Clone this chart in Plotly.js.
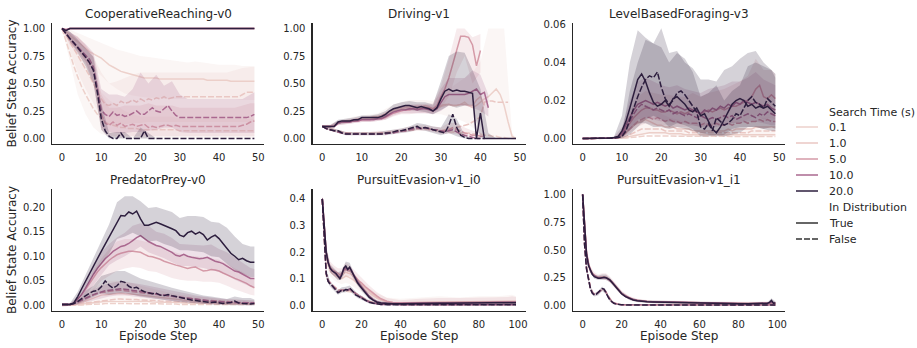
<!DOCTYPE html>
<html><head><meta charset="utf-8">
<script src="https://cdn.plot.ly/plotly-3.0.1.min.js"></script>
<style>html,body{margin:0;padding:0;background:#fff}#chart{width:917px;height:348px}</style>
</head><body><div id="chart"></div>
<script>
// ---------------- DATA ----------------
const hueLabels = ['0.1','1.0','5.0','10.0','20.0'];
const styleLabels = ['True','False'];
const panelTitles = ['CooperativeReaching-v0','Driving-v1','LevelBasedForaging-v3','PredatorPrey-v0','PursuitEvasion-v1_i0','PursuitEvasion-v1_i1'];

const steps50 = [0,1,2,3,4,5,6,7,8,9,10,11,12,13,14,15,16,17,18,19,20,21,22,23,24,25,26,27,28,29,30,31,32,33,34,35,36,37,38,39,40,41,42,43,44,45,46,47,48,49];
const steps100 = [0,1,2,3,4,5,6,7,8,9,10,11,12,13,14,15,16,17,18,19,20,22,24,26,28,30,33,36,40,45,50,55,60,65,70,75,80,85,90,93,95,96,97,98,99];
const bandSteps50 = [0,2,4,6,8,10,12,14,16,18,20,22,24,26,28,30,32,34,36,38,40,42,44,46,48,49];
const bandSteps42 = [0,2,4,6,8,10,12,14,16,18,20,22,24,26,28,30,32,34,36,38,40,42];
const bandSteps40 = [0,2,4,6,8,10,12,14,16,18,20,22,24,26,28,30,32,34,36,38,40];
const bandSteps100 = [0,1,2,4,6,8,10,12,14,16,18,20,24,28,33,40,50,60,70,80,90,95,97,99];

const xTicks50 = [0,10,20,30,40,50];
const xTicks100 = [0,20,40,60,80,100];
const yTicksUnit = [0,0.25,0.5,0.75,1.0];
const yTicksLBF = [0,0.02,0.04,0.06];
const yTicksPP = [0,0.05,0.1,0.15,0.2];
const yTicksPE0 = [0,0.1,0.2,0.3,0.4];

// CooperativeReaching-v0
const cr_t01 = [1.00,0.97,0.94,0.91,0.88,0.85,0.82,0.79,0.77,0.75,0.73,0.70,0.67,0.65,0.63,0.61,0.60,0.59,0.58,0.57,0.56,0.55,0.55,0.55,0.55,0.54,0.54,0.54,0.54,0.54,0.54,0.54,0.54,0.54,0.54,0.54,0.54,0.53,0.53,0.53,0.53,0.53,0.53,0.52,0.52,0.52,0.52,0.52,0.52,0.52];
const cr_t1 = [1,0.99,1,1,1,1,1,1,1,1,1,1,1,1,1,1,1,1,1,1,1,1,1,1,1,1,1,1,1,1,1,1,1,1,1,1,1,1,1,1,1,1,1,1,1,1,1,1,1,1];
const cr_t5 = [1,0.99,1,1,1,1,1,1,1,1,1,1,1,1,1,1,1,1,1,1,1,1,1,1,1,1,1,1,1,1,1,1,1,1,1,1,1,1,1,1,1,1,1,1,1,1,1,1,1,1];
const cr_t10 = [1,0.99,1,1,1,1,1,1,1,1,1,1,1,1,1,1,1,1,1,1,1,1,1,1,1,1,1,1,1,1,1,1,1,1,1,1,1,1,1,1,1,1,1,1,1,1,1,1,1,1];
const cr_t20 = [1,0.98,1,1,1,1,1,1,1,1,1,1,1,1,1,1,1,1,1,1,1,1,1,1,1,1,1,1,1,1,1,1,1,1,1,1,1,1,1,1,1,1,1,1,1,1,1,1,1,1];
const cr_f01 = [1.00,0.88,0.77,0.66,0.56,0.47,0.40,0.33,0.27,0.22,0.18,0.15,0.13,0.12,0.11,0.10,0.10,0.09,0.09,0.09,0.08,0.08,0.08,0.08,0.08,0.08,0.08,0.08,0.08,0.08,0.07,0.07,0.07,0.07,0.07,0.07,0.07,0.07,0.07,0.07,0.07,0.07,0.07,0.07,0.07,0.07,0.07,0.07,0.07,0.07];
const cr_f1 = [1.00,0.94,0.88,0.82,0.76,0.70,0.64,0.57,0.50,0.43,0.36,0.31,0.30,0.32,0.30,0.34,0.32,0.33,0.35,0.33,0.36,0.34,0.36,0.35,0.37,0.36,0.38,0.36,0.37,0.38,0.38,0.38,0.38,0.38,0.38,0.38,0.38,0.38,0.38,0.38,0.38,0.38,0.38,0.38,0.38,0.38,0.40,0.42,0.42,0.42];
const cr_f5 = [1.00,0.95,0.90,0.86,0.82,0.78,0.74,0.69,0.62,0.44,0.22,0.14,0.12,0.15,0.12,0.14,0.11,0.12,0.13,0.11,0.12,0.13,0.10,0.11,0.10,0.11,0.12,0.12,0.11,0.12,0.11,0.11,0.11,0.11,0.11,0.11,0.11,0.11,0.11,0.11,0.11,0.11,0.11,0.11,0.11,0.11,0.12,0.13,0.15,0.16];
const cr_f10 = [1.00,0.95,0.91,0.87,0.83,0.80,0.76,0.72,0.65,0.46,0.26,0.22,0.20,0.24,0.21,0.22,0.20,0.21,0.23,0.25,0.22,0.22,0.25,0.28,0.25,0.24,0.27,0.30,0.25,0.21,0.19,0.19,0.19,0.19,0.19,0.19,0.19,0.19,0.19,0.19,0.19,0.19,0.19,0.19,0.19,0.19,0.19,0.19,0.20,0.22];
const cr_f20 = [1.00,0.95,0.91,0.87,0.83,0.79,0.74,0.69,0.62,0.42,0.18,0.07,0.02,0.00,0.00,0.05,0.00,0.00,0.00,0.00,0.00,0.07,0,0,0,0,0,0,0,0,0,0,0,0,0,0,0,0,0,0,0,0,0,0,0,0,0,0,0,0];
const cr_t01_lo = [1,0.88,0.79,0.70,0.63,0.57,0.50,0.45,0.41,0.39,0.38,0.37,0.37,0.36,0.36,0.36,0.36,0.36,0.36,0.36,0.36,0.36,0.36,0.35,0.35,0.35];
const cr_t01_hi = [1,0.99,0.96,0.93,0.90,0.87,0.84,0.81,0.79,0.77,0.75,0.74,0.73,0.72,0.71,0.70,0.69,0.70,0.69,0.68,0.67,0.67,0.67,0.66,0.66,0.66];
const cr_f01_lo = [1,0.70,0.40,0.22,0.10,0.04,0.02,0.01,0,0,0,0,0,0,0,0,0,0,0,0,0,0,0,0,0,0];
const cr_f01_hi = [1,0.95,0.85,0.72,0.55,0.42,0.35,0.30,0.25,0.22,0.20,0.20,0.20,0.20,0.20,0.18,0.18,0.18,0.18,0.18,0.18,0.18,0.18,0.18,0.18,0.18];
const cr_f1_lo = [1,0.80,0.60,0.45,0.32,0.18,0.12,0.12,0.13,0.14,0.14,0.15,0.15,0.15,0.15,0.15,0.15,0.15,0.15,0.15,0.15,0.15,0.15,0.15,0.15,0.15];
const cr_f1_hi = [1,0.97,0.92,0.85,0.74,0.60,0.50,0.52,0.55,0.58,0.60,0.60,0.60,0.60,0.60,0.60,0.60,0.60,0.60,0.60,0.60,0.60,0.62,0.64,0.65,0.65];
const cr_f5_lo = [1,0.85,0.76,0.68,0.50,0.08,0.02,0.02,0.02,0.02,0.02,0.02,0.02,0.02,0.02,0.02,0.02,0.02,0.02,0.02,0.02,0.02,0.02,0.02,0.02,0.02];
const cr_f5_hi = [1,0.96,0.93,0.85,0.75,0.40,0.28,0.28,0.30,0.30,0.30,0.32,0.30,0.30,0.30,0.28,0.28,0.28,0.28,0.28,0.28,0.28,0.28,0.30,0.32,0.32];
const cr_f10_lo = [1,0.88,0.80,0.70,0.52,0.10,0.06,0.05,0.05,0.06,0.06,0.07,0.08,0.10,0.10,0.06,0.05,0.05,0.05,0.05,0.05,0.05,0.05,0.05,0.05,0.05];
const cr_f10_hi = [1,0.97,0.92,0.86,0.78,0.45,0.40,0.40,0.38,0.45,0.60,0.50,0.58,0.48,0.52,0.40,0.36,0.36,0.36,0.36,0.36,0.36,0.36,0.36,0.40,0.42];
const cr_f20_lo = [1,0.88,0.78,0.66,0.50,0.08,0,0,0,0,0,0,0,0,0,0,0,0,0,0,0,0,0,0,0,0];
const cr_f20_hi = [1,0.97,0.90,0.82,0.74,0.32,0.05,0.06,0.06,0,0.10,0.05,0,0,0,0,0,0,0,0,0,0,0,0,0,0];

// Driving-v1
const dr_t01 = [0.11,0.11,0.11,0.12,0.14,0.15,0.16,0.16,0.17,0.18,0.18,0.19,0.19,0.20,0.20,0.21,0.23,0.25,0.26,0.27,0.28,0.29,0.29,0.29,0.29,0.29,0.30,0.29,0.27,0.28,0.29,0.30,0.31,0.30,0.30,0.31,0.33,0.30,0.28,0.30,0.33,0.36,0.38,0.42,0.45,0.40,0.30,0.15,0.02,0.00];
const dr_t1 = [0.11,0.11,0.11,0.11,0.14,0.15,0.15,0.16,0.16,0.17,0.18,0.18,0.18,0.18,0.19,0.19,0.21,0.23,0.25,0.26,0.27,0.28,0.28,0.28,0.28,0.28,0.29,0.28,0.27,0.28,0.30,0.31,0.31,0.30,0.30,0.31,0.31,0.30,0.30,0.35,0.38,0.30,null,null,null,null,null,null,null,null];
const dr_t5 = [0.11,0.11,0.11,0.11,0.14,0.15,0.15,0.15,0.16,0.16,0.17,0.17,0.17,0.18,0.18,0.18,0.19,0.21,0.23,0.24,0.25,0.26,0.26,0.27,0.27,0.27,0.28,0.28,0.27,0.30,0.38,0.45,0.55,0.68,0.82,0.93,0.93,0.92,0.85,0.66,0.80,null,null,null,null,null,null,null,null,null];
const dr_t10 = [0.11,0.11,0.11,0.11,0.14,0.15,0.15,0.15,0.16,0.16,0.17,0.17,0.17,0.17,0.18,0.18,0.20,0.22,0.24,0.25,0.26,0.26,0.27,0.27,0.26,0.27,0.27,0.26,0.25,0.27,0.32,0.38,0.40,0.40,0.40,0.40,0.40,0.41,0.43,0.45,0.40,0.42,0.28,null,null,null,null,null,null,null];
const dr_t20 = [0.11,0.11,0.11,0.11,0.15,0.16,0.16,0.16,0.17,0.17,0.19,0.19,0.19,0.19,0.19,0.20,0.22,0.25,0.27,0.28,0.29,0.30,0.30,0.29,0.28,0.29,0.28,0.27,0.25,0.28,0.36,0.43,0.45,0.43,0.44,0.43,0.43,0.42,0.41,0.00,0.23,0.00,0.00,0.00,0.00,0.00,0.00,0.00,0.00,0.00];
const dr_f01 = [0.11,0.10,0.09,0.08,0.07,0.06,0.05,0.05,0.05,0.05,0.05,0.05,0.05,0.05,0.05,0.05,0.05,0.06,0.06,0.07,0.07,0.08,0.08,0.08,0.09,0.09,0.09,0.09,0.08,0.08,0.07,0.07,0.06,0.06,0.06,0.05,0.05,0.05,0.04,0.04,0.04,0.03,0.03,0.02,0.02,0.01,0.01,0.00,0.00,0.00];
const dr_f1 = [0.11,0.09,0.08,0.07,0.06,0.05,0.05,0.05,0.04,0.04,0.04,0.04,0.04,0.04,0.05,0.05,0.05,0.06,0.06,0.07,0.07,0.07,0.08,0.08,0.09,0.09,0.09,0.08,0.08,0.07,0.07,0.08,0.09,0.09,0.10,0.11,0.12,0.13,0.15,0.17,0.20,0.33,0.34,0.34,0.33,0.33,0.33,0.33,null,null];
const dr_f5 = [0.11,0.09,0.08,0.07,0.06,0.05,0.05,0.04,0.04,0.04,0.04,0.04,0.04,0.04,0.04,0.05,0.05,0.05,0.06,0.06,0.07,0.07,0.08,0.08,0.09,0.09,0.09,0.09,0.08,0.08,0.07,0.07,0.08,0.10,0.08,0.07,0.05,0.04,0.03,0.03,0.02,0.02,null,null,null,null,null,null,null,null];
const dr_f10 = [0.11,0.09,0.08,0.07,0.06,0.05,0.04,0.04,0.04,0.04,0.04,0.04,0.04,0.04,0.04,0.04,0.04,0.05,0.05,0.06,0.07,0.07,0.08,0.09,0.10,0.09,0.10,0.09,0.08,0.08,0.07,0.06,0.07,0.08,0.06,0.04,0.03,0.02,0.01,0.00,0.00,null,null,null,null,null,null,null,null,null];
const dr_f20 = [0.11,0.09,0.08,0.07,0.07,0.05,0.04,0.04,0.04,0.04,0.04,0.04,0.04,0.04,0.04,0.04,0.05,0.05,0.06,0.07,0.07,0.08,0.09,0.10,0.11,0.09,0.10,0.09,0.08,0.07,0.06,0.05,0.12,0.22,0.10,0.03,0.01,0.00,0.00,0.00,0.00,0.00,null,null,null,null,null,null,null,null];
const dr_t20_lo = [0.10,0.10,0.13,0.14,0.15,0.17,0.17,0.17,0.19,0.24,0.26,0.26,0.25,0.24,0.22,0.26,0.30,0.28,0.30,0.30,0.00,0.00,0.00,0.00,0.00,0.00];
const dr_t20_hi = [0.12,0.12,0.17,0.18,0.19,0.21,0.21,0.22,0.25,0.31,0.33,0.34,0.33,0.33,0.31,0.52,0.75,0.79,0.78,0.62,0.45,0.05,0.00,0.00,0.00,0.00];
const dr_t10_lo = [0.10,0.10,0.12,0.13,0.14,0.15,0.15,0.16,0.17,0.21,0.23,0.23,0.23,0.23,0.22,0.25,0.30,0.30,0.30,0.28,0.25,0.20];
const dr_t10_hi = [0.12,0.12,0.16,0.17,0.18,0.19,0.19,0.20,0.23,0.28,0.30,0.31,0.31,0.31,0.30,0.45,0.55,0.55,0.55,0.62,0.58,0.40];
const dr_t5_lo = [0.10,0.10,0.12,0.13,0.14,0.15,0.15,0.16,0.17,0.20,0.22,0.22,0.23,0.23,0.23,0.28,0.38,0.60,0.75,0.50,0.60];
const dr_t5_hi = [0.12,0.12,0.16,0.17,0.18,0.19,0.20,0.21,0.23,0.27,0.29,0.30,0.31,0.31,0.32,0.48,0.72,1.00,1.00,0.92,0.95];
const dr_t01_lo = [0.10,0.10,0.13,0.14,0.15,0.16,0.17,0.18,0.20,0.23,0.25,0.25,0.25,0.24,0.22,0.22,0.20,0.18,0.15,0.10,0.05,0.00,0.00,0.00,0.00,0.00];
const dr_t01_hi = [0.12,0.13,0.16,0.18,0.20,0.21,0.22,0.23,0.27,0.31,0.33,0.35,0.35,0.35,0.34,0.40,0.45,0.50,0.55,0.60,0.70,1.00,1.00,1.00,0.05,0.00];
const dr_f20_lo = [0.10,0.07,0.05,0.03,0.03,0.03,0.03,0.03,0.03,0.04,0.05,0.06,0.08,0.07,0.05,0.03,0.05,0.02,0.00,0.00,0.00];
const dr_f20_hi = [0.12,0.10,0.08,0.06,0.06,0.06,0.06,0.06,0.07,0.08,0.09,0.11,0.14,0.13,0.11,0.10,0.22,0.18,0.03,0.00,0.00];
const dr_f5_lo = [0.10,0.07,0.05,0.03,0.03,0.03,0.03,0.03,0.04,0.04,0.05,0.06,0.07,0.07,0.06,0.04,0.04,0.04,0.02,0.01,0.00];
const dr_f5_hi = [0.12,0.10,0.08,0.06,0.06,0.06,0.06,0.07,0.07,0.08,0.09,0.11,0.12,0.12,0.11,0.10,0.14,0.14,0.10,0.07,0.06];

// LevelBasedForaging-v3
const lbf_t01 = [0,0,0,0,0,0,0,0,0,0.0001,0.0003,0.0006,0.001,0.0015,0.002,0.0025,0.003,0.003,0.003,0.003,0.003,0.003,0.0025,0.0025,0.0025,0.0025,0.002,0.002,0.002,0.002,0.002,0.002,0.002,0.002,0.002,0.002,0.002,0.002,0.002,0.002,0.002,0.002,0.002,0.002,0.002,0.002,0.002,0.002,0.002,0.002];
const lbf_t1 = [0,0,0,0,0,0,0,0,0,0.0003,0.001,0.003,0.005,0.007,0.008,0.009,0.010,0.009,0.008,0.007,0.007,0.006,0.006,0.006,0.005,0.005,0.005,0.005,0.004,0.004,0.004,0.004,0.004,0.004,0.004,0.004,0.004,0.005,0.004,0.005,0.005,0.005,0.005,0.005,0.006,0.006,0.006,0.006,0.006,0.006];
const lbf_t5 = [0,0,0,0,0,0,0,0,0.0002,0.0008,0.002,0.005,0.008,0.011,0.013,0.015,0.016,0.016,0.015,0.015,0.014,0.014,0.015,0.014,0.013,0.014,0.013,0.014,0.015,0.014,0.013,0.014,0.015,0.014,0.015,0.016,0.015,0.016,0.017,0.017,0.018,0.019,0.020,0.022,0.026,0.028,0.022,0.021,0.023,0.021];
const lbf_t10 = [0,0,0,0,0,0,0,0,0.0003,0.001,0.003,0.007,0.011,0.015,0.018,0.019,0.020,0.019,0.018,0.019,0.018,0.017,0.018,0.016,0.017,0.016,0.015,0.016,0.015,0.014,0.013,0.015,0.014,0.016,0.015,0.017,0.016,0.018,0.017,0.019,0.018,0.020,0.019,0.018,0.019,0.018,0.017,0.018,0.016,0.015];
const lbf_t20 = [0,0,0,0,0,0,0,0.0002,0.0005,0.001,0.004,0.009,0.016,0.023,0.031,0.034,0.030,0.024,0.019,0.017,0.018,0.020,0.017,0.021,0.022,0.020,0.018,0.015,0.014,0.016,0.012,0.013,0.009,0.005,0.003,0.006,0.010,0.014,0.018,0.020,0.021,0.020,0.017,0.018,0.016,0.017,0.016,0.017,0.015,0.013];
const lbf_f01 = [0,0,0,0,0,0,0,0,0,0,0.0001,0.0003,0.0005,0.0008,0.001,0.0012,0.0013,0.0013,0.0013,0.0013,0.0012,0.0012,0.0012,0.0011,0.0011,0.0011,0.001,0.001,0.001,0.001,0.001,0.001,0.001,0.001,0.001,0.001,0.001,0.001,0.001,0.001,0.001,0.001,0.001,0.001,0.001,0.001,0.001,0.001,0.001,0.001];
const lbf_f1 = [0,0,0,0,0,0,0,0,0,0.0002,0.0005,0.001,0.002,0.003,0.004,0.005,0.005,0.005,0.005,0.005,0.005,0.004,0.004,0.004,0.004,0.004,0.004,0.003,0.003,0.003,0.003,0.003,0.003,0.003,0.003,0.003,0.003,0.003,0.003,0.003,0.003,0.003,0.003,0.004,0.004,0.004,0.004,0.004,0.004,0.004];
const lbf_f5 = [0,0,0,0,0,0,0,0,0.0001,0.0004,0.001,0.003,0.005,0.007,0.009,0.010,0.011,0.011,0.010,0.011,0.010,0.009,0.010,0.009,0.009,0.008,0.009,0.008,0.008,0.008,0.007,0.008,0.007,0.007,0.008,0.007,0.007,0.008,0.007,0.008,0.008,0.009,0.008,0.009,0.009,0.010,0.009,0.010,0.009,0.009];
const lbf_f10 = [0,0,0,0,0,0,0,0,0.0002,0.0005,0.002,0.005,0.009,0.013,0.016,0.018,0.017,0.016,0.015,0.016,0.015,0.014,0.015,0.013,0.014,0.013,0.012,0.013,0.012,0.011,0.012,0.011,0.010,0.011,0.010,0.011,0.012,0.011,0.012,0.010,0.011,0.012,0.013,0.012,0.011,0.013,0.012,0.014,0.013,0.012];
const lbf_f20 = [0,0,0,0,0,0,0,0,0.0002,0.0005,0.001,0.004,0.010,0.017,0.022,0.027,0.031,0.033,0.032,0.035,0.027,0.021,0.018,0.020,0.024,0.025,0.023,0.020,0.017,0.014,0.006,0.005,0.008,0.004,0.011,0.009,0.007,0.008,0.010,0.013,0.012,0.016,0.020,0.022,0.019,0.018,0.016,0.021,0.019,0.017];
const lbf_t20_lo = [0,0,0,0,0,0.0005,0.004,0.008,0.008,0.006,0.006,0.005,0.006,0.005,0.004,0.003,0.002,0.001,0.002,0.005,0.006,0.006,0.006,0.005,0.004,0.004];
const lbf_t20_hi = [0,0,0,0.0003,0.001,0.012,0.040,0.057,0.053,0.050,0.058,0.045,0.046,0.040,0.037,0.031,0.031,0.030,0.036,0.038,0.042,0.045,0.046,0.040,0.036,0.034];
const lbf_f20_lo = [0,0,0,0,0,0,0.002,0.006,0.010,0.012,0.010,0.006,0.008,0.007,0.005,0.001,0.001,0.002,0.001,0.002,0.003,0.006,0.006,0.005,0.006,0.005];
const lbf_f20_hi = [0,0,0,0,0.0005,0.003,0.025,0.040,0.052,0.050,0.048,0.040,0.045,0.042,0.035,0.022,0.024,0.028,0.020,0.025,0.028,0.038,0.040,0.038,0.036,0.032];
const lbf_t10_lo = [0,0,0,0,0,0.001,0.005,0.010,0.011,0.010,0.009,0.009,0.008,0.008,0.007,0.006,0.006,0.006,0.007,0.008,0.008,0.009,0.009,0.008,0.007,0.007];
const lbf_t10_hi = [0,0,0,0,0.001,0.006,0.020,0.030,0.032,0.030,0.028,0.027,0.028,0.026,0.025,0.024,0.026,0.027,0.028,0.030,0.030,0.032,0.035,0.031,0.029,0.028];
const lbf_t5_lo = [0,0,0,0,0,0.0005,0.003,0.006,0.008,0.007,0.007,0.007,0.006,0.006,0.007,0.006,0.007,0.007,0.007,0.008,0.009,0.010,0.012,0.010,0.011,0.010];
const lbf_t5_hi = [0,0,0,0,0.0005,0.004,0.014,0.022,0.025,0.024,0.023,0.023,0.022,0.022,0.024,0.022,0.024,0.025,0.026,0.028,0.030,0.033,0.042,0.036,0.036,0.034];
const lbf_t1_lo = [0,0,0,0,0,0,0.001,0.002,0.003,0.002,0.002,0.002,0.001,0.001,0.001,0.001,0.001,0.001,0.001,0.001,0.001,0.001,0.001,0.001,0.001,0.001];
const lbf_t1_hi = [0,0,0,0,0,0.002,0.010,0.015,0.018,0.016,0.013,0.011,0.010,0.009,0.008,0.008,0.008,0.008,0.008,0.009,0.009,0.010,0.011,0.011,0.011,0.011];

// PredatorPrey-v0
const pp_t01 = [0.001,0.001,0.001,0.001,0.002,0.003,0.004,0.005,0.006,0.007,0.007,0.008,0.008,0.008,0.009,0.009,0.009,0.009,0.009,0.008,0.008,0.008,0.008,0.007,0.007,0.007,0.007,0.006,0.006,0.006,0.006,0.005,0.005,0.005,0.005,0.005,0.004,0.004,0.004,0.004,0.004,0.004,0.003,0.003,0.003,0.003,0.003,0.003,0.003,0.003];
const pp_t1 = [0,0,0,0.001,0.003,0.006,0.01,0.013,0.016,0.019,0.021,0.022,0.023,0.024,0.025,0.025,0.024,0.024,0.023,0.022,0.021,0.02,0.019,0.018,0.017,0.016,0.015,0.014,0.013,0.012,0.012,0.011,0.01,0.009,0.009,0.008,0.008,0.007,0.007,0.006,0.006,0.006,0.005,0.005,0.005,0.004,0.004,0.004,0.004,0.004];
const pp_t5 = [0.002,0.002,0.002,0.004,0.012,0.022,0.033,0.045,0.057,0.068,0.077,0.085,0.092,0.098,0.103,0.106,0.108,0.11,0.11,0.109,0.108,0.104,0.1,0.099,0.097,0.094,0.09,0.087,0.085,0.082,0.08,0.077,0.075,0.077,0.078,0.074,0.07,0.071,0.073,0.072,0.07,0.066,0.062,0.058,0.055,0.052,0.049,0.045,0.04,0.036];
const pp_t10 = [0.002,0.002,0.002,0.004,0.012,0.022,0.035,0.05,0.063,0.075,0.085,0.095,0.102,0.11,0.115,0.12,0.122,0.126,0.132,0.138,0.142,0.136,0.13,0.126,0.122,0.12,0.116,0.112,0.108,0.102,0.1,0.104,0.1,0.098,0.097,0.095,0.096,0.098,0.094,0.09,0.088,0.085,0.08,0.075,0.07,0.068,0.064,0.06,0.055,0.055];
const pp_t20 = [0.002,0.002,0.002,0.005,0.018,0.034,0.05,0.065,0.08,0.095,0.11,0.125,0.14,0.155,0.17,0.183,0.182,0.19,0.186,0.192,0.176,0.163,0.163,0.166,0.169,0.166,0.163,0.16,0.156,0.152,0.143,0.14,0.148,0.151,0.145,0.149,0.144,0.133,0.139,0.143,0.136,0.126,0.116,0.106,0.1,0.093,0.096,0.091,0.088,0.088];
const pp_f01 = [0,0,0,0.001,0.001,0.001,0.002,0.002,0.003,0.003,0.003,0.004,0.004,0.004,0.004,0.004,0.004,0.004,0.004,0.004,0.004,0.003,0.003,0.003,0.003,0.003,0.003,0.003,0.003,0.003,0.002,0.002,0.002,0.002,0.002,0.002,0.002,0.002,0.002,0.002,0.002,0.002,0.002,0.002,0.002,0.002,0.002,0.002,0.002,0.002];
const pp_f1 = [0.001,0.001,0.001,0.002,0.003,0.004,0.005,0.007,0.008,0.009,0.01,0.011,0.012,0.012,0.013,0.013,0.013,0.012,0.012,0.012,0.011,0.011,0.01,0.01,0.01,0.009,0.009,0.008,0.008,0.008,0.007,0.007,0.007,0.006,0.006,0.006,0.005,0.005,0.005,0.005,0.004,0.004,0.004,0.004,0.004,0.003,0.003,0.003,0.003,0.003];
const pp_f5 = [0.002,0.002,0.002,0.004,0.006,0.01,0.014,0.018,0.021,0.024,0.026,0.028,0.029,0.03,0.031,0.031,0.03,0.029,0.029,0.028,0.027,0.026,0.025,0.024,0.022,0.021,0.02,0.019,0.018,0.017,0.016,0.015,0.014,0.013,0.012,0.012,0.011,0.01,0.01,0.009,0.009,0.008,0.008,0.007,0.007,0.006,0.006,0.006,0.005,0.005];
const pp_f10 = [0.002,0.002,0.002,0.004,0.007,0.011,0.015,0.019,0.022,0.025,0.028,0.03,0.031,0.032,0.033,0.034,0.033,0.032,0.031,0.03,0.029,0.028,0.026,0.025,0.023,0.022,0.02,0.019,0.018,0.017,0.016,0.015,0.014,0.013,0.012,0.011,0.01,0.009,0.009,0.008,0.008,0.007,0.007,0.006,0.006,0.006,0.005,0.005,0.005,0.005];
const pp_f20 = [0.002,0.002,0.002,0.004,0.008,0.014,0.02,0.025,0.029,0.03,0.038,0.05,0.041,0.035,0.04,0.049,0.047,0.039,0.035,0.037,0.032,0.028,0.026,0.024,0.025,0.021,0.02,0.022,0.02,0.018,0.016,0.015,0.013,0.011,0.01,0.009,0.008,0.007,0.006,0.007,0.005,0.004,0.005,0.006,0.009,0.005,0.004,0.003,0.003,0.004];
const pp_t20_lo = [0,0,0.008,0.035,0.062,0.085,0.105,0.135,0.14,0.148,0.14,0.13,0.132,0.125,0.12,0.112,0.112,0.11,0.108,0.1,0.098,0.085,0.072,0.065,0.058,0.058];
const pp_t20_hi = [0.004,0.004,0.028,0.062,0.095,0.13,0.165,0.21,0.222,0.222,0.212,0.198,0.2,0.195,0.19,0.178,0.182,0.182,0.18,0.17,0.168,0.158,0.14,0.125,0.12,0.12];
const pp_t10_lo = [0,0,0.006,0.02,0.042,0.062,0.082,0.092,0.1,0.11,0.12,0.108,0.102,0.096,0.088,0.08,0.08,0.078,0.076,0.072,0.068,0.062,0.052,0.045,0.038,0.037];
const pp_t10_hi = [0.004,0.004,0.018,0.05,0.085,0.108,0.125,0.138,0.148,0.162,0.167,0.162,0.15,0.146,0.137,0.125,0.124,0.122,0.122,0.124,0.115,0.108,0.098,0.087,0.076,0.074];
const pp_t5_lo = [0,0,0.005,0.015,0.03,0.05,0.06,0.07,0.075,0.078,0.076,0.07,0.068,0.062,0.056,0.052,0.05,0.05,0.048,0.048,0.046,0.04,0.033,0.027,0.022,0.02];
const pp_t5_hi = [0.004,0.004,0.015,0.035,0.07,0.095,0.115,0.13,0.135,0.135,0.132,0.128,0.122,0.115,0.11,0.105,0.1,0.1,0.098,0.096,0.093,0.085,0.075,0.068,0.058,0.055];
const pp_t1_lo = [0,0,0,0,0.003,0.008,0.01,0.011,0.01,0.01,0.009,0.008,0.007,0.006,0.005,0.004,0.003,0.003,0.002,0.002,0.002,0.001,0.001,0.001,0.001,0.001];
const pp_t1_hi = [0.002,0.002,0.004,0.02,0.035,0.045,0.05,0.05,0.048,0.045,0.04,0.036,0.032,0.028,0.025,0.022,0.02,0.018,0.016,0.015,0.014,0.012,0.012,0.011,0.01,0.01];
const pp_f20_lo = [0,0,0.003,0.01,0.018,0.025,0.022,0.025,0.025,0.022,0.018,0.015,0.013,0.011,0.009,0.007,0.006,0.005,0.003,0.002,0.001,0,0,0,0,0];
const pp_f20_hi = [0.004,0.004,0.008,0.03,0.04,0.06,0.065,0.07,0.07,0.062,0.055,0.05,0.045,0.04,0.036,0.032,0.028,0.025,0.02,0.018,0.015,0.013,0.018,0.015,0.015,0.012];
const pp_f10_lo = [0,0,0.002,0.006,0.01,0.014,0.018,0.02,0.02,0.019,0.017,0.015,0.013,0.011,0.009,0.008,0.006,0.005,0.004,0.003,0.003,0.002,0.002,0.002,0.002,0.002];
const pp_f10_hi = [0.004,0.004,0.008,0.022,0.032,0.04,0.045,0.048,0.048,0.046,0.043,0.04,0.037,0.033,0.03,0.027,0.024,0.02,0.018,0.015,0.014,0.013,0.012,0.011,0.01,0.01];

// PursuitEvasion-v1_i0
const pe0_t01 = [0.40,0.27,0.18,0.15,0.13,0.12,0.115,0.11,0.105,0.1,0.1,0.105,0.11,0.108,0.105,0.1,0.095,0.088,0.082,0.076,0.07,0.058,0.046,0.036,0.027,0.02,0.014,0.011,0.01,0.011,0.012,0.012,0.013,0.013,0.014,0.014,0.015,0.015,0.016,0.016,0.017,0.017,0.017,0.016,0.016];
const pe0_t1 = [0.40,0.28,0.19,0.16,0.14,0.13,0.125,0.12,0.115,0.11,0.115,0.12,0.125,0.122,0.12,0.115,0.105,0.098,0.09,0.084,0.078,0.065,0.052,0.04,0.03,0.022,0.015,0.011,0.01,0.01,0.011,0.011,0.012,0.012,0.013,0.013,0.013,0.014,0.014,0.015,0.015,0.016,0.016,0.015,0.015];
const pe0_t5 = [0.40,0.29,0.20,0.165,0.145,0.135,0.13,0.125,0.12,0.115,0.12,0.13,0.135,0.13,0.13,0.125,0.115,0.105,0.098,0.09,0.085,0.07,0.058,0.045,0.035,0.025,0.016,0.011,0.009,0.009,0.01,0.01,0.011,0.011,0.012,0.012,0.012,0.013,0.013,0.014,0.014,0.015,0.015,0.014,0.014];
const pe0_t10 = [0.40,0.29,0.20,0.16,0.14,0.13,0.125,0.118,0.11,0.105,0.12,0.135,0.14,0.135,0.14,0.13,0.115,0.1,0.09,0.08,0.07,0.052,0.035,0.022,0.014,0.01,0.008,0.007,0.007,0.008,0.008,0.008,0.009,0.009,0.009,0.01,0.01,0.01,0.011,0.011,0.011,0.012,0.012,0.011,0.011];
const pe0_t20 = [0.40,0.30,0.20,0.16,0.14,0.13,0.125,0.12,0.11,0.10,0.115,0.14,0.148,0.135,0.144,0.128,0.112,0.095,0.085,0.075,0.066,0.048,0.03,0.02,0.012,0.009,0.007,0.006,0.006,0.007,0.007,0.008,0.008,0.008,0.009,0.009,0.009,0.01,0.01,0.01,0.01,0.011,0.01,0.01,0.01];
const pe0_f01 = [0.40,0.23,0.11,0.09,0.08,0.075,0.07,0.064,0.06,0.057,0.056,0.055,0.055,0.053,0.052,0.05,0.046,0.042,0.038,0.034,0.031,0.023,0.016,0.011,0.008,0.006,0.005,0.004,0.004,0.004,0.004,0.004,0.004,0.004,0.004,0.004,0.004,0.004,0.004,0.004,0.004,0.004,0.004,0.004,0.004];
const pe0_f1 = [0.40,0.24,0.12,0.095,0.085,0.078,0.072,0.065,0.06,0.058,0.058,0.058,0.058,0.056,0.056,0.053,0.049,0.044,0.04,0.036,0.032,0.023,0.016,0.011,0.008,0.006,0.005,0.004,0.004,0.004,0.004,0.004,0.004,0.004,0.004,0.004,0.004,0.004,0.004,0.004,0.004,0.004,0.004,0.004,0.004];
const pe0_f5 = [0.40,0.24,0.12,0.095,0.085,0.078,0.07,0.062,0.056,0.056,0.058,0.058,0.06,0.058,0.06,0.056,0.051,0.045,0.04,0.036,0.032,0.022,0.015,0.01,0.007,0.005,0.004,0.004,0.004,0.004,0.004,0.004,0.004,0.004,0.004,0.004,0.004,0.004,0.004,0.004,0.004,0.004,0.004,0.004,0.004];
const pe0_f10 = [0.40,0.25,0.12,0.09,0.08,0.074,0.066,0.058,0.05,0.053,0.057,0.056,0.06,0.058,0.062,0.056,0.05,0.042,0.037,0.033,0.029,0.019,0.013,0.009,0.006,0.004,0.003,0.003,0.003,0.003,0.003,0.003,0.003,0.003,0.003,0.003,0.003,0.003,0.003,0.003,0.003,0.003,0.003,0.003,0.003];
const pe0_f20 = [0.40,0.25,0.12,0.09,0.08,0.075,0.065,0.055,0.048,0.052,0.058,0.055,0.06,0.058,0.065,0.058,0.048,0.04,0.036,0.032,0.028,0.018,0.012,0.008,0.005,0.004,0.003,0.003,0.003,0.003,0.003,0.003,0.003,0.003,0.003,0.003,0.003,0.003,0.003,0.003,0.003,0.003,0.003,0.003,0.003];
const pe0_t20_lo = [0.39,0.27,0.18,0.125,0.11,0.095,0.1,0.13,0.125,0.1,0.075,0.055,0.022,0.006,0.003,0.002,0.003,0.003,0.004,0.004,0.004,0.004,0.004,0.004];
const pe0_t20_hi = [0.41,0.33,0.22,0.155,0.14,0.125,0.13,0.165,0.16,0.125,0.098,0.078,0.04,0.02,0.012,0.01,0.012,0.013,0.014,0.015,0.016,0.017,0.018,0.017];
const pe0_f20_lo = [0.39,0.22,0.1,0.07,0.055,0.04,0.048,0.05,0.055,0.04,0.028,0.02,0.007,0.002,0.001,0.001,0.001,0.001,0.001,0.001,0.001,0.001,0.001,0.001];
const pe0_f20_hi = [0.41,0.28,0.14,0.09,0.075,0.058,0.068,0.07,0.075,0.058,0.045,0.036,0.018,0.009,0.006,0.005,0.005,0.005,0.005,0.005,0.005,0.005,0.005,0.005];
const pe0_t5_lo = [0.39,0.26,0.18,0.125,0.11,0.1,0.1,0.11,0.11,0.095,0.08,0.065,0.04,0.022,0.008,0.003,0.002,0.002,0.003,0.003,0.003,0.003,0.003,0.003];
const pe0_t5_hi = [0.41,0.32,0.22,0.165,0.15,0.14,0.14,0.16,0.15,0.135,0.118,0.105,0.075,0.05,0.028,0.02,0.025,0.028,0.028,0.03,0.03,0.032,0.035,0.032];
const pe0_t01_lo = [0.39,0.24,0.15,0.11,0.095,0.085,0.08,0.085,0.08,0.07,0.06,0.05,0.03,0.015,0.005,0.002,0.001,0.001,0.001,0.001,0.001,0.001,0.001,0.001];
const pe0_t01_hi = [0.41,0.3,0.21,0.15,0.135,0.125,0.12,0.135,0.13,0.12,0.105,0.09,0.065,0.045,0.03,0.025,0.03,0.035,0.03,0.035,0.035,0.04,0.04,0.035];

// PursuitEvasion-v1_i1
const pe1_t01 = [1.00,0.68,0.46,0.37,0.31,0.285,0.265,0.255,0.25,0.25,0.252,0.252,0.248,0.238,0.226,0.208,0.188,0.166,0.146,0.126,0.106,0.082,0.063,0.051,0.044,0.039,0.035,0.032,0.03,0.028,0.026,0.024,0.022,0.021,0.02,0.019,0.018,0.017,0.017,0.018,0.019,0.019,0.02,0.02,0.019];
const pe1_t1 = [1.00,0.69,0.47,0.37,0.32,0.29,0.27,0.26,0.255,0.255,0.258,0.258,0.252,0.242,0.23,0.212,0.192,0.17,0.15,0.13,0.11,0.086,0.066,0.054,0.046,0.04,0.036,0.033,0.031,0.029,0.027,0.025,0.023,0.021,0.02,0.019,0.018,0.017,0.017,0.018,0.019,0.02,0.021,0.02,0.02];
const pe1_t5 = [1.00,0.70,0.48,0.38,0.32,0.29,0.27,0.26,0.255,0.255,0.26,0.26,0.255,0.245,0.232,0.215,0.195,0.172,0.152,0.132,0.112,0.088,0.068,0.055,0.047,0.041,0.037,0.034,0.032,0.03,0.028,0.026,0.024,0.022,0.02,0.019,0.018,0.018,0.017,0.018,0.019,0.02,0.022,0.021,0.02];
const pe1_t10 = [1.00,0.69,0.47,0.37,0.31,0.28,0.265,0.255,0.25,0.25,0.255,0.255,0.25,0.24,0.228,0.21,0.19,0.168,0.148,0.128,0.108,0.083,0.064,0.052,0.044,0.039,0.035,0.033,0.031,0.029,0.027,0.025,0.023,0.021,0.019,0.018,0.017,0.016,0.016,0.017,0.018,0.022,0.03,0.022,0.021];
const pe1_t20 = [1.00,0.68,0.46,0.36,0.31,0.28,0.26,0.25,0.245,0.245,0.25,0.255,0.25,0.24,0.23,0.21,0.19,0.165,0.145,0.125,0.105,0.08,0.062,0.05,0.043,0.038,0.034,0.032,0.03,0.028,0.026,0.024,0.022,0.02,0.018,0.017,0.016,0.015,0.015,0.016,0.02,0.028,0.045,0.02,0.022];
const pe1_f01 = [1.00,0.55,0.34,0.23,0.16,0.12,0.104,0.104,0.113,0.127,0.14,0.138,0.118,0.088,0.06,0.038,0.025,0.017,0.012,0.009,0.007,0.006,0.006,0.006,0.006,0.006,0.006,0.006,0.006,0.006,0.006,0.006,0.006,0.006,0.006,0.006,0.006,0.006,0.006,0.006,0.006,0.006,0.006,0.006,0.006];
const pe1_f1 = [1.00,0.56,0.34,0.23,0.16,0.12,0.104,0.105,0.115,0.13,0.142,0.14,0.12,0.088,0.058,0.037,0.024,0.017,0.012,0.009,0.007,0.006,0.006,0.006,0.006,0.006,0.006,0.006,0.006,0.006,0.006,0.006,0.006,0.006,0.006,0.006,0.006,0.006,0.006,0.006,0.006,0.006,0.006,0.006,0.006];
const pe1_f5 = [1.00,0.56,0.34,0.23,0.16,0.118,0.102,0.104,0.116,0.132,0.145,0.142,0.12,0.085,0.055,0.035,0.023,0.016,0.012,0.009,0.007,0.006,0.006,0.006,0.006,0.006,0.006,0.006,0.006,0.006,0.006,0.006,0.006,0.006,0.006,0.006,0.006,0.006,0.006,0.006,0.006,0.006,0.006,0.006,0.006];
const pe1_f10 = [1.00,0.55,0.33,0.22,0.15,0.112,0.098,0.102,0.115,0.133,0.148,0.145,0.12,0.082,0.052,0.032,0.021,0.015,0.011,0.008,0.006,0.005,0.005,0.005,0.005,0.005,0.005,0.005,0.005,0.005,0.005,0.005,0.005,0.005,0.005,0.005,0.005,0.005,0.005,0.005,0.005,0.005,0.005,0.005,0.005];
const pe1_f20 = [1.00,0.55,0.33,0.22,0.15,0.11,0.095,0.1,0.115,0.135,0.152,0.148,0.12,0.08,0.05,0.03,0.02,0.014,0.01,0.008,0.006,0.005,0.005,0.005,0.005,0.005,0.005,0.005,0.005,0.005,0.005,0.005,0.005,0.005,0.005,0.005,0.005,0.005,0.005,0.005,0.005,0.005,0.005,0.005,0.005];
const pe1_t20_lo = [0.99,0.64,0.42,0.29,0.24,0.23,0.23,0.23,0.21,0.17,0.13,0.095,0.05,0.032,0.024,0.018,0.014,0.01,0.008,0.006,0.006,0.012,0.01,0.012];
const pe1_t20_hi = [1.0,0.72,0.5,0.33,0.28,0.27,0.28,0.28,0.25,0.21,0.165,0.125,0.075,0.055,0.045,0.04,0.038,0.034,0.028,0.026,0.026,0.032,0.065,0.035];
const pe1_f20_lo = [0.99,0.51,0.3,0.13,0.08,0.09,0.13,0.1,0.035,0.012,0.005,0.003,0.002,0.002,0.002,0.002,0.002,0.002,0.002,0.002,0.002,0.002,0.002,0.002];
const pe1_f20_hi = [1.0,0.59,0.36,0.17,0.11,0.13,0.17,0.14,0.065,0.028,0.015,0.01,0.008,0.008,0.008,0.008,0.008,0.008,0.008,0.008,0.008,0.008,0.008,0.008];
const pe1_t5_lo = [0.99,0.66,0.44,0.3,0.25,0.24,0.24,0.23,0.21,0.17,0.13,0.095,0.05,0.03,0.022,0.015,0.01,0.008,0.006,0.005,0.005,0.005,0.005,0.005];
const pe1_t5_hi = [1.0,0.74,0.52,0.35,0.3,0.28,0.29,0.29,0.26,0.22,0.18,0.135,0.085,0.06,0.05,0.045,0.042,0.038,0.034,0.034,0.034,0.036,0.04,0.038];

// ---------------- STYLE / LAYOUT ----------------
const W = 917, H = 348;
const FONT = 'DejaVu Sans';
const TXT = '#262626';
const hueColors = ['#edd1cb','#eac7c3','#d59aa7','#aa688f','#2d1e3e'];
const DASH = '6px,2px';
const LW = 1.5;
function rgba(hex, a) { const n = parseInt(hex.slice(1), 16); return `rgba(${n >> 16},${(n >> 8) & 255},${n & 255},${a})`; }

const panels = [
  { steps: steps50, tru: [cr_t01, cr_t1, cr_t5, cr_t10, cr_t20], fal: [cr_f01, cr_f1, cr_f5, cr_f10, cr_f20],
    bands: [[0, true, bandSteps50, cr_t01_lo, cr_t01_hi], [0, false, bandSteps50, cr_f01_lo, cr_f01_hi], [1, false, bandSteps50, cr_f1_lo, cr_f1_hi],
            [2, false, bandSteps50, cr_f5_lo, cr_f5_hi], [3, false, bandSteps50, cr_f10_lo, cr_f10_hi], [4, false, bandSteps50, cr_f20_lo, cr_f20_hi]],
    xr: [-2.45, 51.45], xt: xTicks50, yr: [-0.05, 1.05], yt: yTicksUnit, yf: '.2f' },
  { steps: steps50, tru: [dr_t01, dr_t1, dr_t5, dr_t10, dr_t20], fal: [dr_f01, dr_f1, dr_f5, dr_f10, dr_f20],
    bands: [[0, true, bandSteps50, dr_t01_lo, dr_t01_hi], [2, true, bandSteps40, dr_t5_lo, dr_t5_hi], [2, false, bandSteps40, dr_f5_lo, dr_f5_hi],
            [3, true, bandSteps42, dr_t10_lo, dr_t10_hi], [4, true, bandSteps50, dr_t20_lo, dr_t20_hi], [4, false, bandSteps40, dr_f20_lo, dr_f20_hi]],
    xr: [-2.45, 51.45], xt: xTicks50, yr: [-0.05, 1.05], yt: yTicksUnit, yf: '.2f' },
  { steps: steps50, tru: [lbf_t01, lbf_t1, lbf_t5, lbf_t10, lbf_t20], fal: [lbf_f01, lbf_f1, lbf_f5, lbf_f10, lbf_f20],
    bands: [[1, true, bandSteps50, lbf_t1_lo, lbf_t1_hi], [2, true, bandSteps50, lbf_t5_lo, lbf_t5_hi], [3, true, bandSteps50, lbf_t10_lo, lbf_t10_hi],
            [4, true, bandSteps50, lbf_t20_lo, lbf_t20_hi], [4, false, bandSteps50, lbf_f20_lo, lbf_f20_hi]],
    xr: [-2.45, 51.45], xt: xTicks50, yr: [-0.0029, 0.0608], yt: yTicksLBF, yf: '.2f' },
  { steps: steps50, tru: [pp_t01, pp_t1, pp_t5, pp_t10, pp_t20], fal: [pp_f01, pp_f1, pp_f5, pp_f10, pp_f20],
    bands: [[1, true, bandSteps50, pp_t1_lo, pp_t1_hi], [2, true, bandSteps50, pp_t5_lo, pp_t5_hi], [3, true, bandSteps50, pp_t10_lo, pp_t10_hi],
            [3, false, bandSteps50, pp_f10_lo, pp_f10_hi], [4, true, bandSteps50, pp_t20_lo, pp_t20_hi], [4, false, bandSteps50, pp_f20_lo, pp_f20_hi]],
    xr: [-2.45, 51.45], xt: xTicks50, yr: [-0.0113, 0.2368], yt: yTicksPP, yf: '.2f' },
  { steps: steps100, tru: [pe0_t01, pe0_t1, pe0_t5, pe0_t10, pe0_t20], fal: [pe0_f01, pe0_f1, pe0_f5, pe0_f10, pe0_f20],
    bands: [[0, true, bandSteps100, pe0_t01_lo, pe0_t01_hi], [2, true, bandSteps100, pe0_t5_lo, pe0_t5_hi],
            [4, true, bandSteps100, pe0_t20_lo, pe0_t20_hi], [4, false, bandSteps100, pe0_f20_lo, pe0_f20_hi]],
    xr: [-4.95, 103.95], xt: xTicks100, yr: [-0.0208, 0.437], yt: yTicksPE0, yf: '.1f' },
  { steps: steps100, tru: [pe1_t01, pe1_t1, pe1_t5, pe1_t10, pe1_t20], fal: [pe1_f01, pe1_f1, pe1_f5, pe1_f10, pe1_f20],
    bands: [[2, true, bandSteps100, pe1_t5_lo, pe1_t5_hi], [4, true, bandSteps100, pe1_t20_lo, pe1_t20_hi], [4, false, bandSteps100, pe1_f20_lo, pe1_f20_hi]],
    xr: [-4.95, 103.95], xt: xTicks100, yr: [-0.05, 1.05], yt: yTicksUnit, yf: '.2f' }
];

const colL = [52.4, 312.6, 573], colR = [264, 525.7, 785];
const rowT = [23, 189], rowB = [144, 311];
const titleY = [14, 180];

const traces = [];
const layout = {
  width: W, height: H, margin: { l: 0, r: 0, t: 0, b: 0 },
  paper_bgcolor: '#fff', plot_bgcolor: '#fff', showlegend: false,
  font: { family: FONT, color: TXT, size: 10 },
  annotations: [], shapes: []
};

panels.forEach((p, i) => {
  const r = Math.floor(i / 3), c = i % 3;
  const sfx = i === 0 ? '' : String(i + 1);
  const xa = 'x' + sfx, ya = 'y' + sfx;
  for (let h = 0; h < 5; h++) {
    [true, false].forEach(st => {
      p.bands.filter(b => b[0] === h && b[1] === st).forEach(b => {
        traces.push({ x: b[2].concat(b[2].slice().reverse()), y: b[4].concat(b[3].slice().reverse()),
          xaxis: xa, yaxis: ya, type: 'scatter', mode: 'lines', fill: 'toself',
          fillcolor: rgba(hueColors[h], 0.2), line: { width: 0, color: 'rgba(0,0,0,0)' }, hoverinfo: 'skip' });
      });
      traces.push({ x: p.steps, y: st ? p.tru[h] : p.fal[h], xaxis: xa, yaxis: ya, type: 'scatter', mode: 'lines',
        line: { color: hueColors[h], width: LW, dash: st ? 'solid' : DASH }, connectgaps: false,
        name: hueLabels[h] + ' ' + (st ? styleLabels[0] : styleLabels[1]) });
    });
  }
  const axCommon = { showline: true, linecolor: TXT, linewidth: 1.2, ticks: '', showgrid: false, zeroline: false,
    tickfont: { family: FONT, size: 10, color: TXT }, fixedrange: true, ticklabelstandoff: 4 };
  layout['xaxis' + sfx] = Object.assign({}, axCommon, { domain: [colL[c] / W, colR[c] / W], anchor: ya, range: p.xr, tickvals: p.xt, tickmode: 'array' });
  layout['yaxis' + sfx] = Object.assign({}, axCommon, { domain: [1 - rowB[r] / H, 1 - rowT[r] / H], anchor: xa, range: p.yr, tickvals: p.yt, tickmode: 'array', tickformat: p.yf });
  layout.annotations.push({ text: panelTitles[i], xref: 'paper', yref: 'paper', x: (colL[c] + colR[c]) / 2 / W, y: 1 - titleY[r] / H,
    xanchor: 'center', yanchor: 'middle', showarrow: false, font: { family: FONT, size: 12, color: TXT } });
  if (r === 1) layout.annotations.push({ text: 'Episode Step', xref: 'paper', yref: 'paper', x: (colL[c] + colR[c]) / 2 / W, y: 1 - 335.5 / H,
    xanchor: 'center', yanchor: 'middle', showarrow: false, font: { family: FONT, size: 12, color: TXT } });
  if (c === 0) layout.annotations.push({ text: 'Belief State Accuracy', xref: 'paper', yref: 'paper', x: 12 / W, y: 1 - (rowT[r] + rowB[r]) / 2 / H,
    xanchor: 'center', yanchor: 'middle', textangle: -90, showarrow: false, font: { family: FONT, size: 12, color: TXT } });
});

// legend (drawn manually)
const legX0 = 796, legX1 = 818, legTX = 827;
function legText(t, yPx) {
  layout.annotations.push({ text: t, xref: 'paper', yref: 'paper', x: legTX / W, y: 1 - yPx / H, xanchor: 'left', yanchor: 'middle',
    showarrow: false, font: { family: FONT, size: 11, color: TXT } });
}
function legLine(color, dash, yPx) {
  layout.shapes.push({ type: 'line', xref: 'paper', yref: 'paper', x0: legX0 / W, x1: legX1 / W, y0: 1 - yPx / H, y1: 1 - yPx / H,
    line: { color: color, width: 1.5, dash: dash } });
}
legText('Search Time (s)', 112);
hueLabels.forEach((l, k) => { legLine(hueColors[k], 'solid', 127 + 16 * k); legText(l, 127 + 16 * k); });
legText('In Distribution', 207);
legLine('#333333', 'solid', 223); legText(styleLabels[0], 223);
legLine('#333333', DASH, 239); legText(styleLabels[1], 239);

Plotly.newPlot('chart', traces, layout, { staticPlot: true, displayModeBar: false });
</script>
</body></html>
